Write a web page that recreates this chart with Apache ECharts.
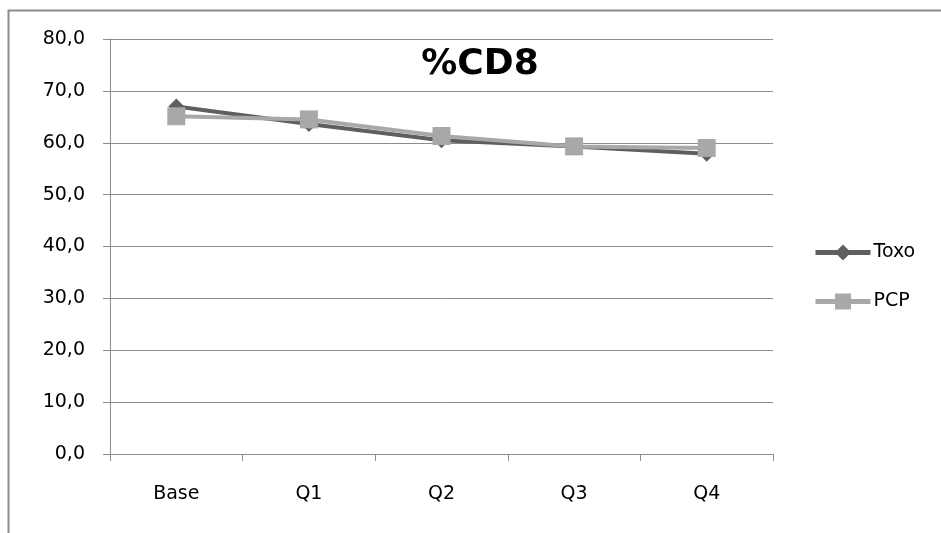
<!DOCTYPE html>
<html>
<head>
<meta charset="utf-8">
<script src="https://cdn.jsdelivr.net/npm/echarts@6/dist/echarts.min.js"></script>
<style>
  html, body { margin: 0; padding: 0; background: #fff; }
  #chart { width: 941px; height: 533px; }
</style>
</head>
<body>
<div id="chart"></div>
<script>
// %CD8 by time point
const categories = ['Base', 'Q1', 'Q2', 'Q3', 'Q4'];
const toxo = [67.0, 63.6, 60.5, 59.3, 57.9];
const pcp = [65.1, 64.5, 61.3, 59.3, 59.0];
const yTicks = { min: 0, max: 80, interval: 10 };

const chart = echarts.init(document.getElementById('chart'));
const font = '"DejaVu Sans", sans-serif';

chart.setOption({
  animation: false,
  backgroundColor: '#fff',
  graphic: [{
    type: 'rect',
    shape: { x: 8.5, y: 10.5, width: 960, height: 560 },
    style: { fill: 'none', stroke: '#8c8c8c', lineWidth: 2 },
    silent: true
  }],
  title: {
    text: '%CD8',
    left: 480, top: 47, textAlign: 'center', padding: 0,
    textStyle: { fontFamily: font, fontSize: 36, fontWeight: 'bold', color: '#000' }
  },
  legend: {
    orient: 'vertical',
    left: 813, top: 243, padding: 0,
    itemGap: 30,
    itemWidth: 55, itemHeight: 20,
    textStyle: { fontFamily: font, fontSize: 19, color: '#000', padding: [0, 0, 0, -2] },
    lineStyle: { width: 5 },
    data: ['Toxo', 'PCP']
  },
  grid: { left: 110, top: 39, width: 663, height: 415 },
  xAxis: {
    type: 'category',
    data: categories,
    boundaryGap: true,
    axisLine: { lineStyle: { color: '#8c8c8c', width: 1 } },
    axisTick: { show: true, length: 7, inside: false, lineStyle: { color: '#8c8c8c' } },
    axisLabel: { fontFamily: font, fontSize: 19, color: '#000', margin: 31 }
  },
  yAxis: {
    type: 'value',
    min: yTicks.min, max: yTicks.max, interval: yTicks.interval,
    axisLine: { show: true, lineStyle: { color: '#8c8c8c', width: 1 } },
    axisTick: { show: true, length: 7, lineStyle: { color: '#8c8c8c' } },
    splitLine: { lineStyle: { color: '#8c8c8c', width: 1 } },
    axisLabel: {
      fontFamily: font, fontSize: 19, color: '#000', margin: 25,
      formatter: v => v.toFixed(1).replace('.', ',')
    }
  },
  series: [
    {
      name: 'Toxo', type: 'line', data: toxo,
      color: '#5f5f5f',
      symbol: 'diamond', symbolSize: 16,
      lineStyle: { width: 4, color: '#5f5f5f' },
      itemStyle: { color: '#5f5f5f' },
      z: 2
    },
    {
      name: 'PCP', type: 'line', data: pcp,
      color: '#a8a8a8',
      symbol: 'rect', symbolSize: 18,
      lineStyle: { width: 4, color: '#a8a8a8' },
      itemStyle: { color: '#a8a8a8' },
      z: 3
    }
  ]
});
</script>
</body>
</html>
